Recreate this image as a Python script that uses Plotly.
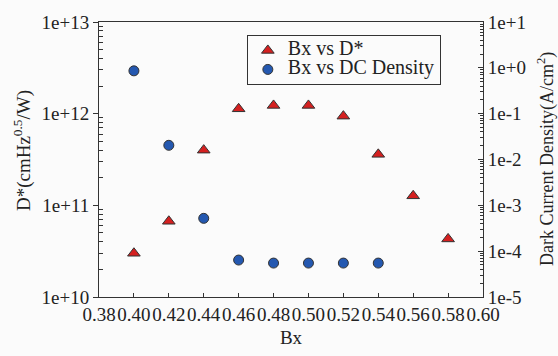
import plotly.graph_objects as go

bx = [0.40, 0.42, 0.44, 0.46, 0.48, 0.50, 0.52, 0.54, 0.56, 0.58]
d_star = [3.0e10, 6.7e10, 4.0e11, 1.13e12, 1.23e12, 1.23e12, 9.4e11, 3.6e11, 1.27e11, 4.3e10]

bx_dc = [0.40, 0.42, 0.44, 0.46, 0.48, 0.50, 0.52, 0.54]
dc_density = [0.86, 0.0204, 5.2e-4, 6.4e-5, 5.5e-5, 5.5e-5, 5.5e-5, 5.5e-5]

left_tickvals = [1e10, 1e11, 1e12, 1e13]
left_ticktext = ["1e+10", "1e+11", "1e+12", "1e+13"]
right_tickvals = [1e-5, 1e-4, 1e-3, 1e-2, 1e-1, 1e0, 1e1]
right_ticktext = ["1e-5", "1e-4", "1e-3", "1e-2", "1e-1", "1e+0", "1e+1"]
x_tickvals = [0.38, 0.40, 0.42, 0.44, 0.46, 0.48, 0.50, 0.52, 0.54, 0.56, 0.58, 0.60]
x_ticktext = ["0.38", "0.40", "0.42", "0.44", "0.46", "0.48", "0.50", "0.52", "0.54", "0.56", "0.58", "0.60"]

def minor_vals(lo, hi):
    vals = []
    for e in range(lo, hi):
        for m in range(2, 10):
            vals.append(m * 10.0 ** e)
    return vals

FONT = "Liberation Serif"
AX = "#333333"
LEG = '<span style="font-size:20px">%s</span>'

fig = go.Figure()
fig.add_trace(go.Scatter(
    x=bx, y=d_star, mode="markers", name=LEG % "Bx vs D*",
    marker=dict(symbol="triangle-up", size=11, color="#d42020",
                line=dict(color="#333333", width=1)),
    yaxis="y"))
fig.add_trace(go.Scatter(
    x=bx_dc, y=dc_density, mode="markers", name=LEG % "Bx vs DC Density",
    marker=dict(symbol="circle", size=10, color="#2458b0",
                line=dict(color="#333333", width=1)),
    yaxis="y2"))

fig.update_layout(
    width=558, height=356,
    margin=dict(l=99, r=75, t=20, b=59),
    paper_bgcolor="#fbfbfb", plot_bgcolor="#fbfbfb",
    font=dict(family=FONT, size=19, color="#222222"),
    showlegend=True,
    legend=dict(x=0.385, y=0.953, xanchor="left", yanchor="top",
                bordercolor="#333333", borderwidth=1, bgcolor="rgba(0,0,0,0)",
                font=dict(family=FONT, size=11), tracegroupgap=0,
                itemwidth=30),
    xaxis=dict(range=[0.38, 0.60], tickmode="array", tickvals=x_tickvals,
               ticktext=x_ticktext, tickangle=0, ticks="inside", ticklen=4,
               tickcolor=AX,
               showline=True, linecolor=AX, linewidth=1, mirror=True,
               showgrid=False, zeroline=False,
               tickfont=dict(family=FONT, size=19),
               title=dict(text="Bx", font=dict(family=FONT, size=19), standoff=6)),
    yaxis=dict(type="log", range=[10, 13], tickmode="array",
               tickvals=left_tickvals, ticktext=left_ticktext,
               ticks="outside", ticklen=5, tickcolor=AX,
               minor=dict(tickmode="array", tickvals=minor_vals(10, 13),
                          ticks="inside", ticklen=4, tickcolor=AX, showgrid=False),
               showline=True, linecolor=AX, linewidth=1,
               showgrid=False, zeroline=False,
               tickfont=dict(family=FONT, size=19)),
    yaxis2=dict(type="log", range=[-5, 1], overlaying="y", side="right",
                tickmode="array", tickvals=right_tickvals, ticktext=right_ticktext,
                ticks="inside", ticklen=5, tickcolor=AX,
                minor=dict(tickmode="array", tickvals=minor_vals(-5, 1),
                           ticks="inside", ticklen=3, tickcolor=AX, showgrid=False),
                showline=True, linecolor=AX, linewidth=1,
                showgrid=False, zeroline=False,
                tickfont=dict(family=FONT, size=19)),
    annotations=[
        dict(text="D*(cmHz<sup>0.5</sup>/W)", xref="paper", yref="paper",
             x=(22 - 99) / 384, y=(297 - 150) / 277, xanchor="center",
             yanchor="middle", textangle=-90, showarrow=False,
             font=dict(family=FONT, size=19)),
        dict(text="Dark Current Density(A/cm<sup>2</sup>)", xref="paper", yref="paper",
             x=(546 - 99) / 384, y=(297 - 158) / 277, xanchor="center",
             yanchor="middle", textangle=-90, showarrow=False,
             font=dict(family=FONT, size=18)),
    ],
)

fig.write_html("out.html")
